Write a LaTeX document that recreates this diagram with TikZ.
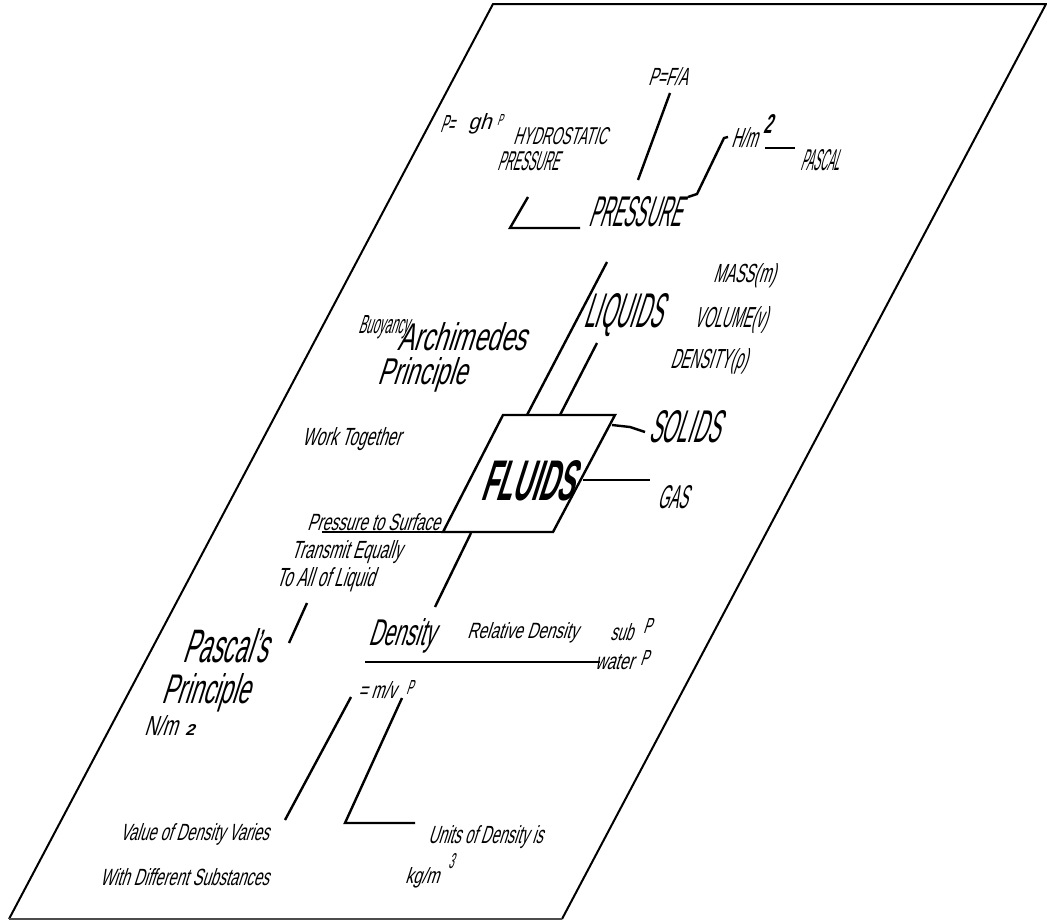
\documentclass[tikz,border=0pt]{standalone}
\usepackage{fontspec}
\setmainfont{Liberation Sans}
\usepackage{graphicx}
\newcommand\tx[6]{%
  \pgfmathsetmacro\bw{#4-0.25*#5}%
  \begin{scope}[shift={(#2,#3)},xslant=0.32]
    \node[txt] (#1) at (0,0) {\resizebox{\bw pt}{#5pt}{#6}};
  \end{scope}}
\begin{document}
\begin{tikzpicture}[x=1pt,y=-1pt,
  txt/.style={anchor=base west,inner sep=0pt,outer sep=0pt,transform shape},
  conn/.style={line width=2.4pt,line join=miter},
  frame/.style={line width=2pt,line join=miter},
  framethin/.style={line width=1.2pt,black!70}]
\useasboundingbox (0,0) rectangle (1047,921);
% frame
\coordinate (ftl) at (493,4);
\coordinate (ftr) at (1046,4);
\coordinate (fbr) at (562,919);
\coordinate (fbl) at (9,919);
\draw[frame] (fbl) -- (ftl) -- (ftr) -- (fbr);
\draw[framethin] (fbr) -- (fbl);
% texts
\tx{pfa}{648}{85}{44}{18}{P=F/A}
\tx{peq}{440}{132}{18}{17}{P=}
\tx{gh}{468}{129}{27}{16}{gh}
\tx{rhoa}{497}{125}{8}{11}{P}
\tx{hydro}{513}{144}{98}{17}{HYDROSTATIC}
\tx{hpress}{497}{170}{66}{19}{PRESSURE}
\tx{press}{588}{226}{100}{30}{PRESSURE}
\tx{hm}{731}{147}{31}{20}{H/m}
\tx{twoa}{763}{133}{13}{19}{\bfseries 2}
\tx{pascal}{800}{170}{44}{21}{PASCAL}
\tx{mass}{713}{282}{67}{19}{MASS(m)}
\tx{volume}{694}{327}{78}{21}{VOLUME(v)}
\tx{densu}{670}{368}{82}{20}{DENSITY(ρ)}
\tx{liquids}{583}{327}{87}{34}{LIQUIDS}
\tx{buoy}{358}{333}{55}{18}{Buoyancy}
\tx{arch}{397}{350}{136}{28}{Archimedes}
\tx{aprin}{377}{384}{96}{27}{Principle}
\tx{work}{302}{445}{103}{18}{Work Together}
\tx{solids}{648}{442}{79}{32}{SOLIDS}
\tx{fluids}{480}{500}{103}{40}{\bfseries FLUIDS}
\tx{gas}{657}{508}{36}{23}{GAS}
\tx{pts}{307}{530}{137}{17}{Pressure to Surface}
\tx{trans}{291}{558}{115}{18}{Transmit Equally}
\tx{toall}{276}{586}{103}{19}{To All of Liquid}
\tx{pascals}{182}{662}{94}{34}{Pascal’s}
\tx{pprin}{161}{703}{96}{30}{Principle}
\tx{nm}{144}{735}{38}{20}{N/m}
\tx{twob}{185}{735}{12}{11}{\bfseries 2}
\tx{density}{368}{645}{73}{27}{Density}
\tx{reld}{467}{638}{115}{16}{Relative Density}
\tx{sub}{610}{640}{27}{17}{sub}
\tx{rhob}{643}{633}{12}{15}{P}
\tx{water}{595}{669}{42}{15}{water}
\tx{rhoc}{640}{665}{12}{15}{P}
\tx{mv}{358}{698}{42}{17}{= m/v}
\tx{rhod}{406}{694}{10}{14}{P}
\tx{value}{120}{840}{153}{17}{Value of Density Varies}
\tx{with}{100}{885}{173}{17}{With Different Substances}
\tx{units}{428}{843}{119}{18}{Units of Density is}
\tx{kgm}{405}{883}{38}{16}{kg/m}
\tx{three}{448}{868}{9}{15}{3}
% fluids box
\coordinate (b1) at (503,415);
\coordinate (b2) at (615,415);
\coordinate (b3) at (553,532);
\coordinate (b4) at (443,532);
\draw[conn] (b1) -- (b2) -- (b3) -- (b4) -- cycle;
% connector end points
\coordinate (c1a) at (670,93);   \coordinate (c1b) at (638,180);
\coordinate (c2a) at (528,197);  \coordinate (c2b) at (510,228); \coordinate (c2c) at (580,228);
\coordinate (c3a) at (688,197);  \coordinate (c3b) at (697,194); \coordinate (c3c) at (724,138); \coordinate (c3d) at (728,137);
\coordinate (c4a) at (765,148);  \coordinate (c4b) at (795,148);
\coordinate (c5a) at (607,262);  \coordinate (c5b) at (527,415);
\coordinate (c6a) at (597,343);  \coordinate (c6b) at (560,415);
\coordinate (c7a) at (612,425);  \coordinate (c7b) at (630,427); \coordinate (c7c) at (645,432);
\coordinate (c8a) at (583,480);  \coordinate (c8b) at (650,480);
\coordinate (c9a) at (322,532);
\coordinate (c10a) at (471,533); \coordinate (c10b) at (435,607);
\coordinate (c11a) at (307,603); \coordinate (c11b) at (289,643);
\coordinate (c12a) at (365,662); \coordinate (c12b) at (600,662);
\coordinate (c13a) at (351,697); \coordinate (c13b) at (285,820);
\coordinate (c14a) at (402,698); \coordinate (c14b) at (345,823); \coordinate (c14c) at (415,823);
\draw[conn] (c1a) -- (c1b);
\draw[conn] (c2a) -- (c2b) -- (c2c);
\draw[conn] (c3a) -- (c3b) -- (c3c) -- (c3d);
\draw[conn] (c4a) -- (c4b);
\draw[conn] (c5a) -- (c5b);
\draw[conn] (c6a) -- (c6b);
\draw[conn] (c7a) -- (c7b) -- (c7c);
\draw[conn] (c8a) -- (c8b);
\draw[conn] (c9a) -- (b4);
\draw[conn] (c10a) -- (c10b);
\draw[conn] (c11a) -- (c11b);
\draw[conn] (c12a) -- (c12b);
\draw[conn] (c13a) -- (c13b);
\draw[conn] (c14a) -- (c14b) -- (c14c);
\end{tikzpicture}
\end{document}
